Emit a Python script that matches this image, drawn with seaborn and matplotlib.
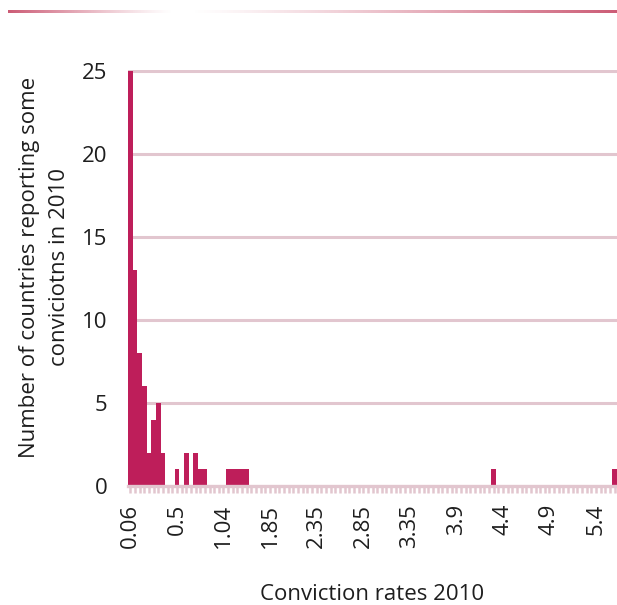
import numpy as np
import pandas as pd
import matplotlib
matplotlib.use('Agg')
import matplotlib.pyplot as plt
import seaborn as sns

# Number of countries per conviction-rate category (105 categories, gap-free bars)
counts = [25, 13, 8, 6, 2, 4, 5, 2, 0, 0,
          1, 0, 2, 0, 2, 1, 1, 0, 0, 0,
          0, 1, 1, 1, 1, 1, 0, 0, 0, 0,
          0, 0, 0, 0, 0, 0, 0, 0, 0, 0,
          0, 0, 0, 0, 0, 0, 0, 0, 0, 0,
          0, 0, 0, 0, 0, 0, 0, 0, 0, 0,
          0, 0, 0, 0, 0, 0, 0, 0, 0, 0,
          0, 0, 0, 0, 0, 0, 0, 0, 1, 0,
          0, 0, 0, 0, 0, 0, 0, 0, 0, 0,
          0, 0, 0, 0, 0, 0, 0, 0, 0, 0,
          0, 0, 0, 0, 1]

# Labels shown on every 10th category
rate_labels = ['0.06', '0.5', '1.04', '1.85', '2.35', '2.85',
               '3.35', '3.9', '4.4', '4.9', '5.4']
label_step = 10

y_ticks = [0, 5, 10, 15, 20, 25]

df = pd.DataFrame({'category': np.arange(len(counts)), 'count': counts})

bar_color = '#be1e5a'
pink = '#e2c6cf'
text_color = '#1e1e1e'
fs = 16

sns.set_style('white')
plt.rcParams['font.family'] = ['Open Sans', 'DejaVu Sans']

fig = plt.figure(figsize=(6.17, 6.05), dpi=100)
ax = fig.add_axes([128 / 617, 1 - 486 / 605, 489 / 617, 416 / 605])

sns.barplot(data=df, x='category', y='count', color=bar_color, saturation=1,
            width=1.0, linewidth=0, ax=ax, zorder=2)

ax.set_xlim(-0.5, len(counts) - 0.5)
ax.set_ylim(0, 25.08)
ax.set_yticks(y_ticks)
ax.set_yticklabels([str(t) for t in y_ticks], fontsize=fs, color=text_color)
ax.tick_params(axis='y', left=False, length=0, pad=15)

# Grid lines (skip the one at zero, the axis line takes its place)
for t in y_ticks[1:]:
    ax.axhline(t, color=pink, linewidth=2.2, zorder=1)

# Category ticks on every bar, labels on every 10th
ax.set_xticks(np.arange(len(counts)))
xlabels = [''] * len(counts)
for i, lbl in enumerate(rate_labels):
    xlabels[i * label_step] = lbl
ax.set_xticklabels(xlabels, rotation=90, fontsize=fs, color=text_color)
ax.tick_params(axis='x', bottom=True, direction='out', length=5, width=1.8,
               color=pink, pad=8)

for s in ['top', 'right', 'left']:
    ax.spines[s].set_visible(False)
ax.spines['bottom'].set_color(pink)
ax.spines['bottom'].set_linewidth(2.4)
ax.spines['bottom'].set_zorder(3)

ax.set_ylabel('Number of countries reporting some\nconviciotns in 2010',
              fontsize=fs, color=text_color, linespacing=1.55)
ax.yaxis.set_label_coords(-0.118, 0.526)
ax.set_xlabel('Conviction rates 2010', fontsize=fs, color=text_color)
ax.xaxis.set_label_coords(0.5, -0.236)

# Decorative fading rule at the top
line_ax = fig.add_axes([8 / 617, 1 - 13 / 605, 609 / 617, 3 / 605])
xs = np.linspace(0, 1, 600)
alpha = np.clip(np.where(xs < 0.3, 1 - xs / 0.27, (xs - 0.3) / 0.7), 0, 1) ** 1.2
grad = np.zeros((1, len(xs), 4))
grad[..., 0] = 0.80
grad[..., 1] = 0.36
grad[..., 2] = 0.46
grad[..., 3] = alpha
line_ax.imshow(grad, aspect='auto', interpolation='bilinear')
line_ax.axis('off')

fig.savefig('out.png', dpi=100)
